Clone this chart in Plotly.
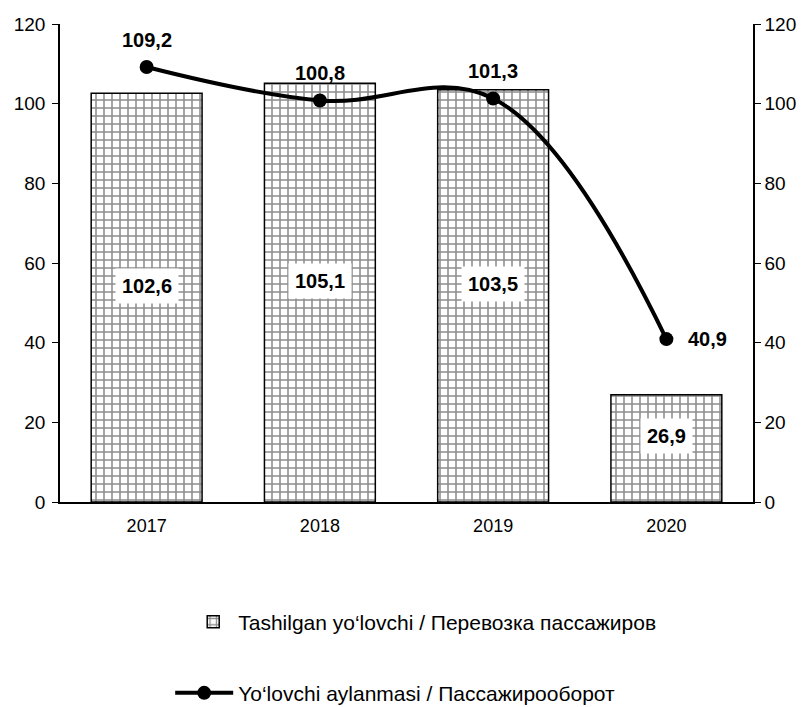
import plotly.graph_objects as go

years = ["2017", "2018", "2019", "2020"]
bar_values = [102.6, 105.1, 103.5, 26.9]
line_values = [109.2, 100.8, 101.3, 40.9]
bar_labels = ["102,6", "105,1", "103,5", "26,9"]
line_labels = ["109,2", "100,8", "101,3", "40,9"]
bar_name = "Tashilgan yo‘lovchi / Перевозка пассажиров"
line_name = "Yo‘lovchi aylanmasi / Пассажирооборот"
y_ticks = [0, 20, 40, 60, 80, 100, 120]

FONT = "Liberation Sans, Arial, sans-serif"
LBL = 20

fig = go.Figure()
fig.add_trace(go.Bar(
    x=years, y=bar_values, name=bar_name,
    marker=dict(color="white",
                line=dict(color="black", width=1.5),
                pattern=dict(shape="+", fgcolor="#1a1a1a", bgcolor="white",
                             size=8, solidity=0.35)),
    legend="legend",
))
fig.add_trace(go.Scatter(
    x=years, y=line_values, name=line_name, mode="lines+markers",
    line=dict(color="black", width=4, shape="spline", smoothing=1.1),
    marker=dict(color="black", size=14),
    yaxis="y2", legend="legend2",
))

annotations = []
for i, (v, lab) in enumerate(zip(bar_values, bar_labels)):
    annotations.append(dict(x=i, y=v / 2, xref="x", yref="y", text=f"<b>{lab}</b>",
                            showarrow=False, yshift=12, bgcolor="white", borderpad=6,
                            font=dict(family=FONT, size=LBL, color="black")))
for i, (v, lab) in enumerate(zip(line_values, line_labels)):
    if i == len(years) - 1:
        annotations.append(dict(x=i, y=v, xref="x", yref="y2", text=f"<b>{lab}</b>",
                                showarrow=False, xanchor="left", xshift=20,
                                font=dict(family=FONT, size=LBL, color="black")))
    else:
        annotations.append(dict(x=i, y=v, xref="x", yref="y2", text=f"<b>{lab}</b>",
                                showarrow=False, yshift=27,
                                font=dict(family=FONT, size=LBL, color="black")))

fig.update_layout(
    width=800, height=699,
    margin=dict(l=52, r=55, t=16, b=205, autoexpand=False),
    paper_bgcolor="white", plot_bgcolor="white",
    font=dict(family=FONT, size=18, color="black"),
    showlegend=True,
    bargap=0.36,
    xaxis=dict(type="category", range=[-0.5, len(years) - 0.5], autorange=False,
               automargin=False, showline=True, linecolor="black", linewidth=1.5,
               ticks="", ticklabelstandoff=7,
               tickfont=dict(size=18), showgrid=False),
    yaxis=dict(range=[0, 120], tickvals=y_ticks, showline=True, linecolor="black",
               automargin=False, linewidth=1.5, ticks="outside", ticklen=6,
               ticklabelstandoff=3,
               tickcolor="black", showgrid=False, zeroline=False, tickfont=dict(size=19)),
    yaxis2=dict(range=[0, 120], tickvals=y_ticks, overlaying="y", side="right",
                automargin=False, showline=True, linecolor="black", linewidth=1.5,
                ticks="outside", ticklen=6, tickcolor="black", showgrid=False,
                zeroline=False, tickfont=dict(size=19)),
    legend=dict(x=0.185, xanchor="left", y=-0.251, yanchor="middle", itemwidth=40,
                font=dict(size=21), bgcolor="rgba(0,0,0,0)"),
    legend2=dict(x=0.159, xanchor="left", y=-0.40, yanchor="middle", itemwidth=58,
                 font=dict(size=21), bgcolor="rgba(0,0,0,0)"),
    annotations=annotations,
)

fig.write_html("out.html")
